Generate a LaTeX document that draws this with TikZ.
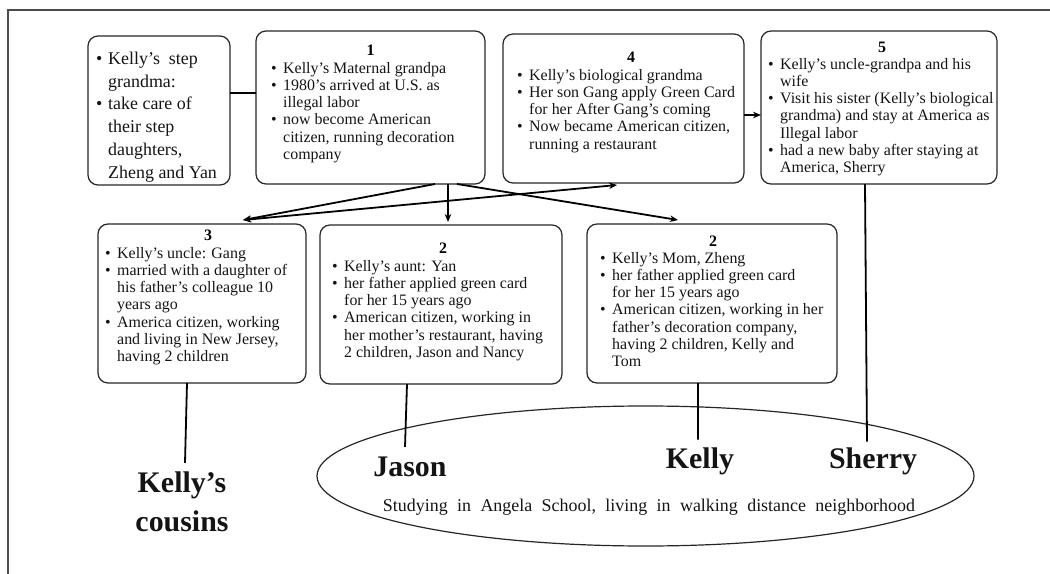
\documentclass[tikz,border=0pt]{standalone}
\usepackage{fontspec}
\setmainfont{Liberation Serif}
\newfontfamily\widesp[WordSpace=2.1]{Liberation Serif}
\usetikzlibrary{arrows.meta,shapes.geometric,calc}
\newcommand{\bi}[1]{\makebox[12bp][l]{\textbullet}#1}
\newcommand{\ci}[1]{\hspace*{12bp}#1}
\begin{document}
\begin{tikzpicture}[x=1bp,y=-1bp,
  frame/.style={draw=black!70, line width=1.1bp},
  card/.style={draw=black!85, line width=1.2bp, rounded corners=10bp, anchor=north west, inner sep=0, outer sep=0},
  body/.style={anchor=north west, inner sep=0, align=left, font=\fontsize{16}{17.3}\selectfont, text=black!92},
  stepbody/.style={anchor=north west, inner sep=0, align=left, font=\fontsize{18}{23}\selectfont, text=black!92},
  num/.style={inner sep=0, font=\fontsize{16}{17.3}\selectfont\bfseries},
  big/.style={inner sep=0, align=center, font=\fontsize{30}{39}\selectfont\bfseries, text=black!92},
  conn/.style={line width=1.8bp, black},
  arr/.style={conn, -{Stealth[length=8bp,width=6.5bp]}},
  darr/.style={conn, {Stealth[length=8bp,width=6.5bp]}-{Stealth[length=8bp,width=6.5bp]}},
]
\useasboundingbox (0,0) rectangle (1050,574);
% page frame
\draw[frame] (8,574) -- (8,10) -- (1050,10);

% top row
\node[card, minimum width=142bp, minimum height=149bp] (sg) at (88,36) {};
\node[stepbody] (sgt) at (96,51.5) {\bi{Kelly’s\ \ step}\\ \ci{grandma:}\\ \bi{take care of}\\ \ci{their step}\\ \ci{daughters,}\\ \ci{Zheng and Yan}};

\node[card, minimum width=229bp, minimum height=153bp] (b1) at (256,31) {};
\node[num] (n1) at (370.5,50) {1};
\node[body] (t1) at (271,62) {\bi{Kelly’s Maternal grandpa}\\ \bi{1980’s arrived at U.S. as}\\ \ci{illegal labor}\\ \bi{now become American}\\ \ci{citizen, running decoration}\\ \ci{company}};

\node[card, minimum width=241bp, minimum height=149bp] (b4) at (503,34) {};
\node[num] (n4) at (631,57) {4};
\node[body] (t4) at (517,69) {\bi{Kelly’s biological grandma}\\ \bi{Her son Gang apply Green Card}\\ \ci{for her After Gang’s coming}\\ \bi{Now became American citizen,}\\ \ci{running a restaurant}};

\node[card, minimum width=236bp, minimum height=153bp] (b5) at (761,31) {};
\node[num] (n5) at (882,47) {5};
\node[body] (t5) at (768,58) {\bi{Kelly’s uncle-grandpa and his}\\ \ci{wife}\\ \bi{Visit his sister (Kelly’s biological}\\ \ci{grandma) and stay at America as}\\ \ci{Illegal labor}\\ \bi{had a new baby after staying at}\\ \ci{America, Sherry}};

% bottom row
\node[card, minimum width=208bp, minimum height=159bp] (b3) at (98,224) {};
\node[num] (n3) at (208,235) {3};
\node[body] (t3) at (105,247) {\bi{Kelly’s uncle: Gang}\\ \bi{married with a daughter of}\\ \ci{his father’s colleague 10}\\ \ci{years ago}\\ \bi{America citizen, working}\\ \ci{and living in New Jersey,}\\ \ci{having 2 children}};

\node[card, minimum width=242bp, minimum height=159bp] (b2a) at (320,225) {};
\node[num] (n2a) at (443,248) {2};
\node[body] (t2a) at (332,260) {\bi{Kelly’s aunt: Yan}\\ \bi{her father applied green card}\\ \ci{for her 15 years ago}\\ \bi{American citizen, working in}\\ \ci{her mother’s restaurant, having}\\ \ci{2 children, Jason and Nancy}};

\node[card, minimum width=250bp, minimum height=159bp] (b2m) at (587,224) {};
\node[num] (n2m) at (713,241) {2};
\node[body] (t2m) at (600,252) {\bi{Kelly’s Mom, Zheng}\\ \bi{her father applied green card}\\ \ci{for her 15 years ago}\\ \bi{American citizen, working in her}\\ \ci{father’s decoration company,}\\ \ci{having 2 children, Kelly and}\\ \ci{Tom}};

% school ellipse and names
\node[draw=black!85, ellipse, minimum width=657bp, minimum height=140bp, inner sep=0, line width=1.2bp] (school) at (645.5,476) {};
\node[inner sep=0, font=\widesp\fontsize{18}{20}\selectfont, text=black!92] (study) at (649,507) {Studying in Angela School, living in walking distance neighborhood};
\node[big] (cousins) at (182,502) {Kelly’s\\cousins};
\node[big] (jason) at (410,467) {Jason};
\node[big] (kelly) at (700,461) {Kelly};
\node[big] (sherry) at (873,461) {Sherry};

% connectors
\draw[conn] ([yshift=17.5bp]sg.east) -- ([yshift=14.5bp]b1.west);
\draw[arr] ([yshift=-6.5bp]b4.east) -- ([yshift=-7.5bp]b5.west);
\draw[arr] ([xshift=64.5bp]b1.south) -- ([xshift=41bp,yshift=4bp]b3.north);
\draw[darr] ([xshift=41bp,yshift=4bp]b3.north) -- ([xshift=-6.5bp,yshift=-2bp]b4.south);
\draw[arr] ([xshift=77.5bp]b1.south) -- ([xshift=7bp,yshift=3bp]b2a.north);
\draw[arr] ([xshift=86.5bp]b1.south) -- ([xshift=-34bp,yshift=4bp]b2m.north);

\draw[conn] ([xshift=-15bp]b3.south) -- ([xshift=3bp,yshift=9bp]cousins.north);
\draw[conn] ([xshift=-34bp]b2a.south) -- ([xshift=-5bp,yshift=10bp]jason.north);
\draw[conn] ([xshift=-14bp]b2m.south) -- ([xshift=-2bp,yshift=7.5bp]kelly.north);
\draw[conn] ([xshift=-14bp]b5.south) -- ([xshift=-6bp,yshift=5.5bp]sherry.north);
\end{tikzpicture}
\end{document}
